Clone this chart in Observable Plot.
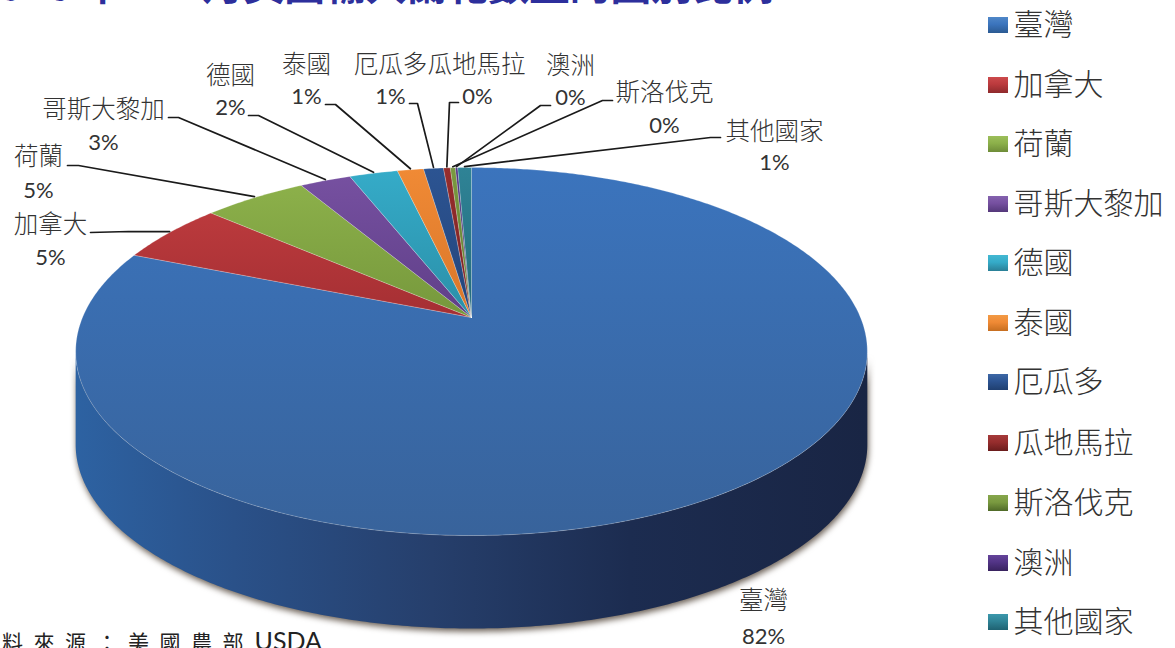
<!DOCTYPE html>
<html lang="zh-Hant">
<head>
<meta charset="utf-8">
<script src="https://cdn.jsdelivr.net/npm/d3@7"></script>
<script src="https://cdn.jsdelivr.net/npm/@observablehq/plot@0.6"></script>
<style>
html,body{margin:0;padding:0;background:#fff;overflow:hidden}
svg{display:block}
</style>
</head>
<body>
<div id="chart"></div>
<script>
// ---- data ----
const names = ["臺灣","加拿大","荷蘭","哥斯大黎加","德國","泰國","厄瓜多","瓜地馬拉","斯洛伐克","澳洲","其他國家"];
const shares = [81.1,5.36,5.06,2.5,2.36,1.28,0.97,0.33,0.25,0.11,0.67];
const percentLabels = ["82%","5%","5%","3%","2%","1%","1%","0%","0%","0%","1%"];
const topColors = ["#3b74bd","#bb3a3d","#8cb04a","#7650a0","#35abc8","#f08a35","#2c5492","#962d2d","#7a9a40","#523486","#2f8396"];
const lowColors = ["#38639b","#a52f33","#76983c","#5f3f88","#2a8fa8","#d9762a","#24447a","#7a2222","#5f7a30","#3f2868","#236a7a"];
const legendTop = ["#4f87c8","#cc4a4c","#9cbe5a","#8462ae","#43b8d2","#f29a45","#3e68a6","#a53a3a","#86a64c","#64449a","#3b98ac"];
const legendLow = ["#2b5a92","#8e2a2c","#6e8c38","#54387a","#2a7f96","#c66e20","#1f3f70","#6a1c1c","#4f6a28","#38225e","#1f6272"];

// ---- layout of the picture (page pixels) ----
const W = 1175, H = 648;
const apexX = 471, apexY = 317, spanX = 389, spanY = 177.7, tilt = 0.185, depth = 93;
const nameFont = "'Noto Sans CJK TC','Noto Sans CJK SC',sans-serif";
const latin = "Lato,'Open Sans',sans-serif";
const legendX = 988, legendTextX = 1013, legendYs = [25,85,144,204,263,323,382,443,503,563,622];
// label centre x, name y, percent x, percent y, and the elbow of each leader
const labelLayout = [
  {nx:763,ny:601,px:763,py:636},
  {nx:50, ny:225,px:50, py:257,from:[90,232], elbow:[128,231]},
  {nx:38, ny:157,px:38, py:190,from:[67,165], elbow:[78,165]},
  {nx:103,ny:110,px:103,py:142,from:[168,117],elbow:[178,117]},
  {nx:230,ny:76, px:230,py:107,from:[248,115],elbow:[258,115]},
  {nx:306,ny:65, px:306,py:96, from:[325,104],elbow:[335,104]},
  {nx:390,ny:65, px:390,py:96, from:[409,103],elbow:[417,103]},
  {nx:476,ny:65, px:477,py:96, from:[458,102],elbow:[449,102]},
  {nx:664,ny:93, px:664,py:125,from:[612,100],elbow:[602,100]},
  {nx:570,ny:66, px:570,py:97, from:[550,105],elbow:[540,105]},
  {nx:774,ny:132,px:774,py:162,from:[720,137],elbow:[710,137]}
];

// ---- geometry derived from the shares ----
const total = d3.sum(shares);
// slices run clockwise from the top, with Taiwan first; the disc is seen in perspective
let acc = 0;
const slices = names.map((name,i)=>{
  const a0 = acc/total*2*Math.PI; acc += shares[i];
  return {name,i,a0,a1:acc/total*2*Math.PI};
});
const onRim = (a,dy=0)=>{
  const X = Math.sin(a), Y = Math.cos(a), d = 1+tilt*Y;
  return {x:apexX+spanX*X/d,y:apexY-spanY*Y/d+dy};
};
const arcPts = (a0,a1,dy=0)=>{
  const n = Math.max(2,Math.ceil(Math.abs(a1-a0)/0.01));
  return d3.range(n+1).map(k=>onRim(a0+(a1-a0)*k/n,dy));
};
const slicePts = slices.flatMap(s=>[{x:apexX,y:apexY},...arcPts(s.a0,s.a1),{x:apexX,y:apexY}].map(p=>({...p,name:s.name})));
const sideA = Math.acos(-tilt);
const wall = [...arcPts(sideA,2*Math.PI-sideA),...arcPts(2*Math.PI-sideA,sideA,depth)];
const leaders = slices.slice(1).flatMap(s=>{
  const L = labelLayout[s.i], e = onRim((s.a0+s.a1)/2);
  return [{x:L.from[0],y:L.from[1],k:s.i},{x:L.elbow[0],y:L.elbow[1],k:s.i},{x:e.x,y:e.y-1,k:s.i}];
});
const labelRows = names.map((name,i)=>({name,pct:percentLabels[i],...labelLayout[i]}));
const legendRows = names.map((name,i)=>({name,y:legendYs[i]}));

function gradients(){
  const defs = d3.create("svg:defs");
  const add = (id,stops,horizontal)=>{
    const g = defs.append("linearGradient").attr("id",id)
      .attr("x1",0).attr("y1",0).attr("x2",horizontal?1:0).attr("y2",horizontal?0:1);
    stops.forEach(([o,c])=>g.append("stop").attr("offset",o).attr("stop-color",c));
  };
  names.forEach((_,i)=>{
    add("slice"+i,[[0,topColors[i]],[1,lowColors[i]]],false);
    add("key"+i,[[0,legendTop[i]],[.45,topColors[i]],[1,legendLow[i]]],false);
  });
  add("wall",[[0,"#2d62a2"],[.2,"#2a5189"],[.45,"#263f6c"],[.7,"#1c2c50"],[1,"#192544"]],true);
  return defs.node();
}

const chart = Plot.plot({
  width:W,height:H,margin:0,
  x:{domain:[0,W],range:[0,W],axis:null},
  y:{domain:[0,H],range:[0,H],axis:null},
  color:{domain:names,range:names.map((_,i)=>`url(#slice${i})`)},
  style:{background:"#fff",overflow:"hidden"},
  marks:[
    gradients,
    // title and source, cut by the page edges as in the picture
    Plot.text(["2016 年 1-2 月美國輸入蘭花數量的國別比例"],{x:-26,y:-1,text:d=>d,textAnchor:"start",lineAnchor:"bottom",fontSize:40.8,fontWeight:700,fill:"#2d2f9c",fontFamily:nameFont}),
    Plot.text(["資\u2002料\u2002來\u2002源\u2002：\u2002美\u2002國\u2002農\u2002部"],{x:-30,y:649,text:d=>d,textAnchor:"start",lineAnchor:"bottom",fontSize:21,fontWeight:400,fill:"#222",fontFamily:nameFont}),
    Plot.text(["USDA"],{x:254,y:649,text:d=>d,textAnchor:"start",lineAnchor:"bottom",fontSize:25,fill:"#222",fontFamily:latin}),
    // soft shadow under the wall, then wall and top face
    Plot.line(wall,{x:"x",y:"y",dy:3,dx:1,fill:"#6a5f55",imageFilter:"blur(3px)"}),
    Plot.line(wall,{x:"x",y:"y",fill:"url(#wall)"}),
    Plot.line(slicePts,{x:"x",y:"y",z:"name",fill:"name",stroke:"#ffffff",strokeOpacity:0.22,strokeWidth:1}),
    // leaders
    Plot.line(leaders,{x:"x",y:"y",z:"k",stroke:"#1a1a1a",strokeWidth:1.7,curve:"linear"}),
    // labels
    Plot.text(labelRows,{x:"nx",y:"ny",text:"name",fontSize:24.5,fill:"#333",fontWeight:300,fontFamily:nameFont}),
    Plot.text(labelRows,{x:"px",y:"py",text:"pct",fontSize:22,fill:"#333",fontFamily:latin}),
    // legend
    ...names.map((name,i)=>Plot.rect([legendRows[i]],{x1:legendX,x2:legendX+20,y1:d=>d.y-8,y2:d=>d.y+8,fill:`url(#key${i})`})),
    Plot.text(legendRows,{x:legendTextX,y:"y",text:"name",textAnchor:"start",fontSize:30,fill:"#333",fontWeight:300,fontFamily:nameFont})
  ]
});
document.getElementById("chart").append(chart);
</script>
</body>
</html>
